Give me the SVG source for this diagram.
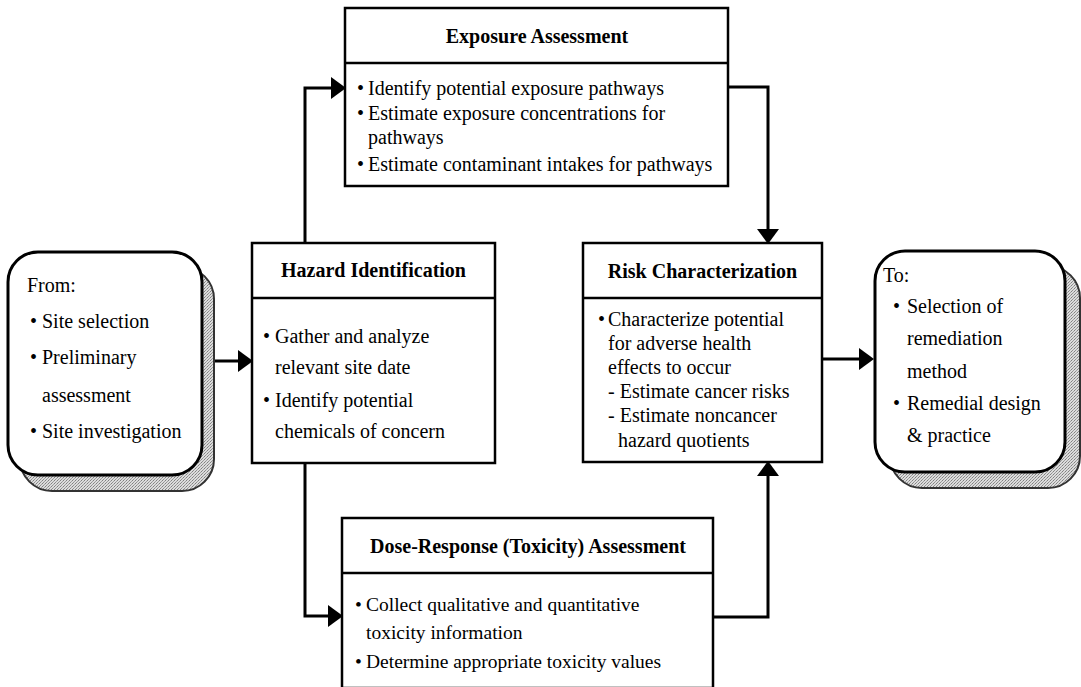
<svg xmlns="http://www.w3.org/2000/svg" width="1081" height="687" viewBox="0 0 1081 687">
<defs>
<pattern id="dots" width="3" height="3" patternUnits="userSpaceOnUse">
<rect width="3" height="3" fill="#dcdcdc"/>
<rect width="1" height="1" fill="#808080"/>
<rect x="2" y="1" width="1" height="1" fill="#a0a0a0"/>
<rect x="1" y="2" width="1" height="1" fill="#909090"/>
</pattern>
<marker id="ah" markerUnits="userSpaceOnUse" markerWidth="16" markerHeight="24" refX="7" refY="11" orient="auto">
<path d="M0,0 L15,11 L0,22 Z" fill="#000"/>
</marker>
<style>
.box{fill:#fff;stroke:#000;stroke-width:2.5}
.rbox{fill:#fff;stroke:#000;stroke-width:3}
.shadow{fill:url(#dots);stroke:#333;stroke-width:2}
.div{stroke:#000;stroke-width:2.5}
.conn{fill:none;stroke:#000;stroke-width:3}
text{font-family:"Liberation Serif","Times New Roman",serif;font-size:20px;fill:#000}
.hd{font-weight:bold;font-size:20px;text-anchor:middle}
.sm{font-size:19.5px}
</style>
</defs>
<rect width="1081" height="687" fill="#fff"/>

<g id="connectors">
<path class="conn" d="M202,361 H245" marker-end="url(#ah)"/>
<path class="conn" d="M305,243 V88 H338" marker-end="url(#ah)"/>
<path class="conn" d="M728,87 H768 V236" marker-end="url(#ah)"/>
<path class="conn" d="M305,463 V616 H335" marker-end="url(#ah)"/>
<path class="conn" d="M713,617 H768 V469" marker-end="url(#ah)"/>
<path class="conn" d="M822,359 H866" marker-end="url(#ah)"/>
</g>

<g id="from">
<rect class="shadow" x="20" y="267" width="194" height="224" rx="32"/>
<rect class="rbox" x="8" y="252" width="194" height="223" rx="30"/>
<text x="27" y="292">From:</text>
<text><tspan x="30" y="328">•</tspan><tspan x="42" y="328">Site selection</tspan></text>
<text><tspan x="30" y="364">•</tspan><tspan x="42" y="364">Preliminary</tspan></text>
<text x="42" y="402">assessment</text>
<text><tspan x="30" y="438">•</tspan><tspan x="42" y="438">Site investigation</tspan></text>
</g>

<g id="hazard">
<rect class="box" x="252" y="243" width="243" height="220"/>
<line class="div" x1="252" y1="298" x2="495" y2="298"/>
<text class="hd" x="373.5" y="277">Hazard Identification</text>
<text><tspan x="263" y="343">•</tspan><tspan x="275" y="343">Gather and analyze</tspan></text>
<text x="275" y="374">relevant site date</text>
<text><tspan x="263" y="407">•</tspan><tspan x="275" y="407">Identify potential</tspan></text>
<text x="275" y="438">chemicals of concern</text>
</g>

<g id="exposure">
<rect class="box" x="345" y="8" width="383" height="178"/>
<line class="div" x1="345" y1="63" x2="728" y2="63"/>
<text class="hd" x="537" y="43">Exposure Assessment</text>
<text><tspan x="357" y="95">•</tspan><tspan x="368" y="95">Identify potential exposure pathways</tspan></text>
<text><tspan x="357" y="120">•</tspan><tspan x="368" y="120">Estimate exposure concentrations for</tspan></text>
<text x="368" y="144">pathways</text>
<text><tspan x="357" y="171">•</tspan><tspan x="368" y="171">Estimate contaminant intakes for pathways</tspan></text>
</g>

<g id="risk">
<rect class="box" x="583" y="243" width="239" height="219"/>
<line class="div" x1="583" y1="298" x2="822" y2="298"/>
<text class="hd" x="702.5" y="278">Risk Characterization</text>
<text><tspan x="598" y="326">•</tspan><tspan x="608" y="326">Characterize potential</tspan></text>
<text x="608" y="350">for adverse health</text>
<text x="608" y="374">effects to occur</text>
<text x="608" y="398">- Estimate cancer risks</text>
<text x="608" y="422">- Estimate noncancer</text>
<text x="618" y="447">hazard quotients</text>
</g>

<g id="to">
<rect class="shadow" x="890" y="266" width="190" height="222" rx="32"/>
<rect class="rbox" x="875" y="251" width="190" height="221" rx="30"/>
<text x="883" y="282">To:</text>
<text><tspan x="893" y="313">•</tspan><tspan x="907" y="313">Selection of</tspan></text>
<text x="907" y="345">remediation</text>
<text x="907" y="378">method</text>
<text><tspan x="893" y="410">•</tspan><tspan x="907" y="410">Remedial design</tspan></text>
<text x="907" y="442">&amp; practice</text>
</g>

<g id="dose">
<rect class="box" x="342" y="518" width="371" height="170"/>
<line class="div" x1="342" y1="573" x2="713" y2="573"/>
<text class="hd" x="528" y="553">Dose-Response (Toxicity) Assessment</text>
<text class="sm"><tspan x="355" y="611">•</tspan><tspan x="366" y="611">Collect qualitative and quantitative</tspan></text>
<text class="sm" x="366" y="639">toxicity information</text>
<text class="sm"><tspan x="355" y="668">•</tspan><tspan x="366" y="668">Determine appropriate toxicity values</tspan></text>
</g>
</svg>
